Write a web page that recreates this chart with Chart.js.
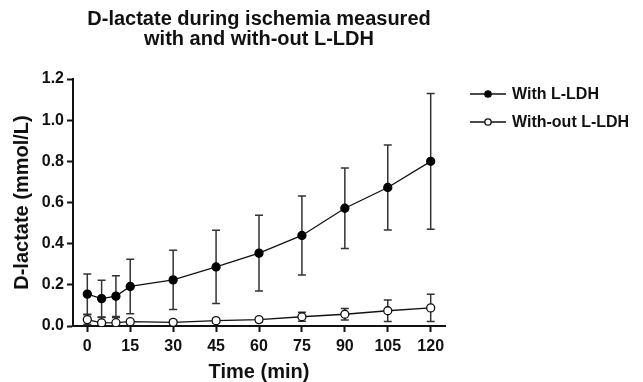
<!DOCTYPE html>
<html>
<head>
<meta charset="utf-8">
<script src="https://cdn.jsdelivr.net/npm/chart.js@4"></script>
<style>
html, body { margin: 0; padding: 0; background: #fff; }
</style>
</head>
<body>
<canvas id="myChart" width="643" height="382"></canvas>
<script>
// 數據
const times = [0, 5, 10, 15, 30, 45, 60, 75, 90, 105, 120];
const withLDH = [0.155, 0.133, 0.145, 0.192, 0.224, 0.287, 0.354, 0.440, 0.572, 0.673, 0.800];
const withLDHsd = [0.098, 0.089, 0.099, 0.132, 0.144, 0.178, 0.184, 0.192, 0.196, 0.206, 0.330];
const withoutLDH = [0.031, 0.015, 0.016, 0.021, 0.018, 0.026, 0.031, 0.045, 0.057, 0.074, 0.088];
const withoutLDHsd = [0.024, 0.026, 0.025, 0.010, 0.010, 0.010, 0.010, 0.022, 0.028, 0.052, 0.066];
const xTicks = [0, 15, 30, 45, 60, 75, 90, 105, 120];
const yTicks = [0, 0.2, 0.4, 0.6, 0.8, 1.0, 1.2];

Chart.defaults.font.family = '"Liberation Sans", Arial, Helvetica, sans-serif';
Chart.defaults.color = '#111';

// 誤差線
const errorBars = {
    id: 'errorBars',
    beforeDatasetsDraw(chart) {
        const { ctx, chartArea, scales: { x, y } } = chart;
        ctx.save();
        ctx.beginPath();
        ctx.rect(chartArea.left, chartArea.top - 5, chartArea.width, chartArea.height + 5);
        ctx.clip();
        ctx.strokeStyle = '#333';
        ctx.lineWidth = 1.5;
        chart.data.datasets.forEach(ds => {
            ds.data.forEach((p, i) => {
                const px = x.getPixelForValue(p.x);
                const hi = y.getPixelForValue(p.y + ds.errors[i]);
                const lo = y.getPixelForValue(p.y - ds.errors[i]);
                ctx.beginPath();
                ctx.moveTo(px, hi); ctx.lineTo(px, lo);
                ctx.moveTo(px - 4, hi); ctx.lineTo(px + 4, hi);
                ctx.moveTo(px - 4, lo); ctx.lineTo(px + 4, lo);
                ctx.stroke();
            });
        });
        ctx.restore();
    }
};

// 圖例
const sideLegend = {
    id: 'sideLegend',
    afterDraw(chart) {
        const { ctx, chartArea } = chart;
        ctx.save();
        chart.data.datasets.forEach((ds, i) => {
            const x0 = chartArea.right + 25;
            const y0 = chartArea.top + 15 + i * 28;
            ctx.strokeStyle = '#111';
            ctx.lineWidth = 1.3;
            ctx.beginPath();
            ctx.moveTo(x0, y0); ctx.lineTo(x0 + 36, y0);
            ctx.stroke();
            ctx.beginPath();
            ctx.arc(x0 + 18, y0, 3.2, 0, Math.PI * 2);
            ctx.fillStyle = ds.pointBackgroundColor;
            ctx.fill();
            ctx.stroke();
            ctx.fillStyle = '#111';
            ctx.font = 'bold 16px "Liberation Sans", Arial, sans-serif';
            ctx.textBaseline = 'middle';
            ctx.fillText(ds.label, x0 + 42, y0 + 1);
        });
        ctx.restore();
    }
};

const ctx = document.getElementById('myChart').getContext('2d');
const myChart = new Chart(ctx, {
    type: 'line',
    data: {
        datasets: [{
            label: 'With L-LDH',
            data: times.map((t, i) => ({ x: t, y: withLDH[i] })),
            errors: withLDHsd,
            borderColor: '#111',
            borderWidth: 1.3,
            pointRadius: 4,
            pointBackgroundColor: '#000',
            pointBorderColor: '#000',
            pointBorderWidth: 1.3,
            tension: 0
        }, {
            label: 'With-out L-LDH',
            data: times.map((t, i) => ({ x: t, y: withoutLDH[i] })),
            errors: withoutLDHsd,
            borderColor: '#111',
            borderWidth: 1.3,
            pointRadius: 4,
            pointBackgroundColor: '#fff',
            pointBorderColor: '#111',
            pointBorderWidth: 1.3,
            tension: 0
        }]
    },
    options: {
        responsive: false,
        animation: false,
        devicePixelRatio: 1,
        layout: { padding: { top: 0, right: 198, left: 0, bottom: 0 } },
        plugins: {
            legend: { display: false },
            tooltip: { enabled: false },
            title: {
                display: true,
                fullSize: false,
                text: ['D-lactate during ischemia measured', 'with and with-out L-LDH'],
                font: { size: 20, weight: 'bold', lineHeight: 1.0 },
                color: '#111',
                padding: { top: 9, bottom: 30 }
            }
        },
        scales: {
            x: {
                type: 'linear',
                min: -5,
                max: 125,
                afterBuildTicks: s => { s.ticks = xTicks.map(v => ({ value: v })); },
                afterFit: s => { s.height = 56; },
                ticks: { font: { size: 16, weight: 'bold' }, padding: 5, color: '#111' },
                grid: { display: true, drawOnChartArea: false, tickLength: 6, tickWidth: 2, tickColor: '#111' },
                border: { display: true, width: 2, color: '#111' },
                title: { display: true, text: 'Time (min)', font: { size: 20, weight: 'bold', lineHeight: 1.0 }, padding: { top: 2, bottom: 0 }, color: '#111' }
            },
            y: {
                min: 0,
                max: 1.2,
                afterBuildTicks: s => { s.ticks = yTicks.map(v => ({ value: v })); },
                afterFit: s => { s.width = 73; },
                ticks: { font: { size: 16, weight: 'bold' }, padding: 3, color: '#111', callback: v => v.toFixed(1) },
                grid: { display: true, drawOnChartArea: false, tickLength: 6, tickWidth: 2, tickColor: '#111' },
                border: { display: true, width: 2, color: '#111' },
                title: { display: true, text: 'D-lactate (mmol/L)', font: { size: 20, weight: 'bold', lineHeight: 1.0 }, padding: { top: 12, bottom: 2 }, color: '#111' }
            }
        }
    },
    plugins: [errorBars, sideLegend]
});
</script>
</body>
</html>
